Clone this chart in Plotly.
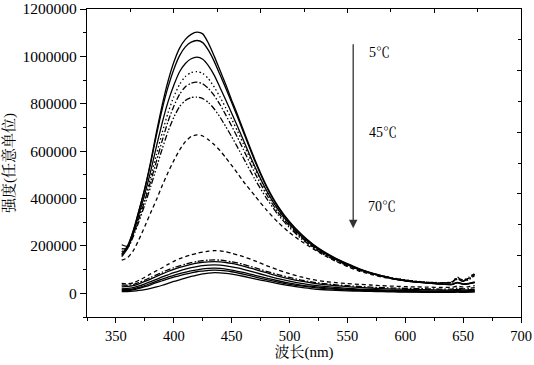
import plotly.graph_objects as go

# wavelength grid (nm)
wavelength = [355, 360, 365, 370, 375, 380, 385, 390, 395, 400, 405, 410, 415, 420, 425, 430,
              435, 440, 445, 450, 455, 460, 470, 480, 490, 500, 510, 520, 530, 540, 550, 560,
              570, 580, 590, 600, 610, 620, 630, 640, 645, 650, 655, 660]

# intensities in thousands (a.u.)
up_a = [160, 195, 262, 350, 445, 555, 680, 795, 895, 975, 1035, 1072, 1093, 1102, 1095, 1055,
        1000, 940, 880, 815, 755, 690, 565, 455, 368, 302, 250, 208, 175, 148, 125, 104,
        87, 74, 62, 54, 48, 44, 40, 38, 46, 40, 42, 48]
up_b = [165, 200, 265, 352, 442, 548, 668, 778, 870, 945, 1003, 1040, 1060, 1067, 1058, 1025,
        978, 922, 865, 805, 745, 682, 558, 450, 364, 299, 248, 206, 173, 146, 123, 102,
        86, 73, 61, 53, 47, 43, 39, 37, 45, 39, 41, 46]
up_c = [155, 188, 252, 335, 420, 515, 620, 720, 808, 878, 935, 970, 990, 997, 988, 960,
        920, 868, 815, 760, 705, 648, 535, 435, 354, 292, 242, 202, 170, 144, 121, 101,
        85, 72, 61, 53, 47, 43, 39, 37, 44, 38, 40, 45]
up_d = [175, 195, 250, 325, 402, 490, 585, 678, 762, 830, 882, 915, 932, 936, 928, 905,
        870, 828, 782, 735, 685, 632, 527, 432, 352, 290, 240, 200, 168, 142, 120, 101,
        86, 74, 64, 57, 51, 47, 45, 48, 68, 56, 68, 86]
up_e = [205, 198, 248, 318, 392, 472, 558, 645, 725, 790, 840, 872, 887, 891, 884, 864,
        834, 796, 752, 706, 658, 608, 508, 418, 342, 284, 236, 198, 166, 141, 119, 100,
        85, 73, 63, 56, 50, 46, 44, 46, 62, 52, 62, 80]
up_f = [188, 190, 240, 305, 375, 450, 530, 610, 683, 743, 788, 814, 826, 828, 822, 805,
        778, 743, 703, 661, 617, 572, 482, 402, 332, 277, 231, 194, 163, 138, 116, 98,
        84, 72, 62, 55, 49, 45, 43, 45, 60, 50, 58, 75]
up_g = [140, 150, 180, 228, 283, 340, 395, 455, 510, 560, 605, 640, 662, 669, 664, 648,
        627, 602, 572, 540, 507, 473, 412, 352, 300, 256, 220, 189, 160, 135, 113, 94,
        80, 68, 60, 53, 48, 45, 44, 47, 66, 55, 64, 84]

lo_1 = [42, 40, 44, 55, 68, 82, 95, 108, 122, 135, 146, 155, 162, 169, 174, 178,
        180, 179, 175, 169, 162, 155, 137, 117, 99, 83, 69, 58, 50, 45, 41, 38,
        35, 32, 30, 28, 27, 26, 25, 25, 30, 26, 28, 32]
lo_2 = [36, 34, 37, 46, 56, 67, 78, 89, 99, 108, 116, 123, 129, 134, 138, 140,
        141, 140, 137, 133, 128, 122, 108, 93, 79, 67, 56, 47, 41, 36, 32, 29,
        26, 24, 22, 21, 20, 19, 18, 18, 22, 19, 21, 24]
lo_3 = [30, 29, 32, 40, 50, 60, 71, 82, 92, 101, 109, 116, 122, 127, 131, 133,
        134, 133, 130, 126, 121, 115, 101, 87, 73, 61, 51, 43, 37, 32, 28, 25,
        22, 20, 18, 17, 16, 15, 14, 14, 16, 14, 15, 16]
lo_4 = [22, 21, 24, 31, 40, 49, 59, 69, 78, 87, 95, 102, 108, 113, 117, 119,
        120, 119, 116, 112, 107, 101, 88, 75, 62, 51, 42, 35, 29, 25, 21, 18,
        16, 14, 13, 12, 11, 10, 10, 10, 12, 10, 11, 12]
lo_5 = [16, 16, 19, 25, 33, 42, 51, 60, 68, 76, 83, 89, 95, 99, 103, 105,
        106, 105, 102, 98, 93, 88, 76, 64, 53, 43, 35, 29, 24, 20, 17, 15,
        13, 11, 10, 9, 8, 8, 7, 7, 9, 7, 8, 9]
lo_6 = [12, 12, 15, 21, 28, 36, 45, 53, 61, 68, 75, 81, 86, 91, 94, 97,
        98, 97, 95, 91, 86, 81, 69, 58, 47, 38, 31, 25, 20, 17, 14, 12,
        10, 9, 8, 7, 6, 6, 5, 5, 7, 5, 6, 7]
lo_7 = [7, 7, 9, 12, 16, 21, 27, 34, 42, 50, 57, 64, 71, 77, 82, 85,
        87, 86, 84, 81, 77, 72, 61, 51, 41, 32, 25, 19, 15, 12, 10, 9,
        8, 7, 6, 5, 5, 4, 4, 4, 5, 4, 5, 6]

x_ticks = [350, 400, 450, 500, 550, 600, 650, 700]
y_ticks = [0, 200000, 400000, 600000, 800000, 1000000, 1200000]
temp_labels = ["5℃", "45℃", "70℃"]

SOLID = "solid"
DOT = "1.5px,2.5px"
DASH = "4px,3px"
DASHDOT = "6px,2px,1.5px,2px"
DASHDOTDOT = "6px,2px,1.5px,2px,1.5px,2px"

series = [
    (up_a, SOLID), (up_b, SOLID), (up_c, SOLID), (up_d, DOT), (up_e, DASHDOT),
    (up_f, DASHDOTDOT), (up_g, DASH),
    (lo_1, DASH), (lo_2, DASHDOT), (lo_3, SOLID), (lo_4, SOLID), (lo_5, SOLID),
    (lo_6, SOLID), (lo_7, SOLID),
]

fig = go.Figure()
for vals, dash in series:
    fig.add_trace(go.Scatter(
        x=wavelength, y=[v * 1000 for v in vals], mode="lines",
        line=dict(color="black", width=1.3, dash=dash, shape="spline", smoothing=0.6),
        showlegend=False, hoverinfo="skip"))

# invisible helper trace so that the top/right tick-only axes are drawn
fig.add_trace(go.Scatter(x=[5], y=[5], xaxis="x2", yaxis="y2", mode="markers",
                         marker=dict(opacity=0), showlegend=False, hoverinfo="skip"))

SERIF = "'Liberation Serif', 'Times New Roman', Times, 'DejaVu Serif', serif"
SERIF_CJK = "'Liberation Serif', 'Times New Roman', 'Noto Serif CJK SC', 'Noto Sans CJK SC', serif"

fig.update_layout(
    width=534, height=365,
    margin=dict(l=87, r=13, t=9, b=48, autoexpand=False),
    paper_bgcolor="white", plot_bgcolor="white",
    font=dict(family=SERIF, color="black", size=15),
    xaxis=dict(
        range=[325, 700], tickvals=x_ticks, ticks="outside", ticklen=5, tickwidth=1,
        tickcolor="black", showline=True, linecolor="black", linewidth=1.3, mirror=True,
        showgrid=False, zeroline=False, automargin=False, ticklabeloverflow="allow",
        tickfont=dict(size=14.5, family=SERIF),
        minor=dict(dtick=25, tick0=325, ticks="outside", ticklen=3, tickcolor="black"),
        title=dict(text="波长(nm)", font=dict(size=15, family=SERIF_CJK), standoff=0),
    ),
    yaxis=dict(
        range=[-100000, 1200000], tickvals=y_ticks, tickformat="d", ticks="outside",
        ticklen=6, tickwidth=1, tickcolor="black", showline=True, linecolor="black",
        linewidth=1.3, mirror=True, showgrid=False, zeroline=False, automargin=False,
        ticklabeloverflow="allow",
        tickfont=dict(size=15.5, family=SERIF),
        minor=dict(dtick=100000, tick0=0, ticks="outside", ticklen=3, tickcolor="black"),
        title=dict(text="强度(任意单位)", font=dict(size=15, family=SERIF_CJK), standoff=4),
    ),
    xaxis2=dict(
        overlaying="x", side="top", anchor="y2", range=[0, 10], dtick=2, tick0=0,
        ticks="inside", ticklen=4, tickcolor="black", showticklabels=False,
        showgrid=False, zeroline=False, showline=False, automargin=False,
        minor=dict(dtick=1, ticks="inside", ticklen=3, tickcolor="black"),
    ),
    yaxis2=dict(
        overlaying="y", side="right", anchor="x2", range=[0, 10], dtick=2, tick0=0,
        ticks="inside", ticklen=4, tickcolor="black", showticklabels=False,
        showgrid=False, zeroline=False, showline=False, automargin=False,
        minor=dict(dtick=1, ticks="inside", ticklen=3, tickcolor="black"),
    ),
)

# temperature arrow
fig.add_annotation(x=555, y=275000, ax=555, ay=1058000, xref="x", yref="y",
                   axref="x", ayref="y", text="", showarrow=True, arrowhead=2,
                   arrowsize=1.3, arrowwidth=1.3, arrowcolor="#333333")

label_pos_x = [578, 581, 580]
label_pos_y = [1015000, 677000, 365000]
for t, lx, ly in zip(temp_labels, label_pos_x, label_pos_y):
    fig.add_annotation(x=lx, y=ly, xref="x", yref="y", text=t, showarrow=False,
                       font=dict(size=14, family=SERIF_CJK, color="black"))

# remove the default page margin so the 534x365 figure fills the window exactly
fig.write_html("out.html",
               config={"displayModeBar": False},
               post_script="document.body.style.margin='0px';"
                           "document.body.style.overflow='hidden';")
